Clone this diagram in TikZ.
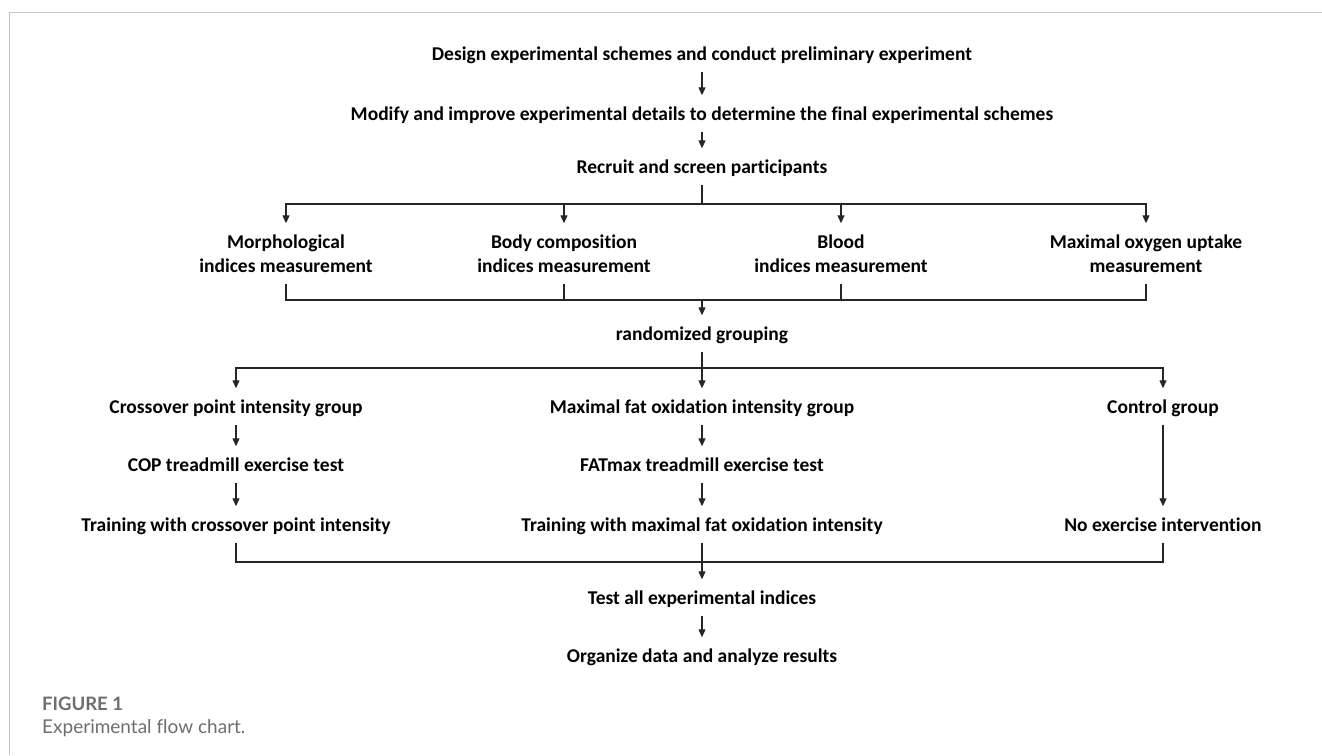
\documentclass[tikz,border=0pt]{standalone}
\usepackage{fontspec}
\setmainfont{Carlito}[Ligatures=NoCommon]
\newfontfamily\capfont{Lato}[Ligatures=NoCommon]
\usetikzlibrary{arrows.meta}
\definecolor{framegray}{HTML}{C4C4C4}
\definecolor{capgray}{HTML}{6E6E6E}
\begin{document}
\begin{tikzpicture}[x=1pt,y=-1pt,
  stage/.style={font=\fontsize{19.5}{24}\selectfont\bfseries, align=center,
    text height=14.5pt, text depth=4.5pt, inner xsep=2pt, inner ysep=7pt},
  twoline/.style={stage, text height=38.5pt},
  link/.style={line width=1.2pt, draw=black!85},
  arr/.style={link, shorten >=3pt, -{Triangle[length=8pt,width=7pt]}}]
\useasboundingbox (0,0) rectangle (1322,755);
\fill[white] (0,0) rectangle (1322,755);
% panel frame (top and left edges)
\draw[line width=1.5pt, draw=framegray] (9.5,755) -- (9.5,12.5) -- (1322,12.5);

% preparation stages
\node[stage] (design) at (702,55) {Design experimental schemes and conduct preliminary experiment};
\node[stage] (modify) at (702,115) {Modify and improve experimental details to determine the final experimental schemes};
\node[stage] (recruit) at (702,168) {Recruit and screen participants};

% baseline measurements
\node[twoline] (m1) at (286,255) {Morphological\\indices measurement};
\node[twoline] (m2) at (564,255) {Body composition\\indices measurement};
\node[twoline] (m3) at (841,255) {Blood\\indices measurement};
\node[twoline] (m4) at (1146,255) {Maximal oxygen uptake\\measurement};

\node[stage] (rnd) at (702,335) {randomized grouping};

% groups
\node[stage] (g1) at (236,408) {Crossover point intensity group};
\node[stage] (g2) at (702,408) {Maximal fat oxidation intensity group};
\node[stage] (g3) at (1163,408) {Control group};
\node[stage] (c1) at (236,466) {COP treadmill exercise test};
\node[stage] (c2) at (702,466) {FATmax treadmill exercise test};
\node[stage] (t1) at (236,526) {Training with crossover point intensity};
\node[stage] (t2) at (702,526) {Training with maximal fat oxidation intensity};
\node[stage] (t3) at (1163,526) {No exercise intervention};

% final stages
\node[stage] (test) at (702,599) {Test all experimental indices};
\node[stage] (org) at (702,657) {Organize data and analyze results};

% branch and join points
\coordinate (split1) at (702,204);
\coordinate (join1) at (702,300);
\coordinate (split2) at (702,368);
\coordinate (join2) at (702,562);

% connectors
\draw[arr] (design) -- (modify);
\draw[arr] (modify) -- (recruit);
\draw[link] (recruit) -- (split1);
\foreach \n in {m1,m2,m3,m4} {
  \draw[arr] (split1) -| (\n);
  \draw[link] (\n) |- (join1);
}
\draw[arr] (join1) -- (rnd);
\draw[link] (rnd) -- (split2);
\draw[arr] (split2) -| (g1);
\draw[arr] (split2) -- (g2);
\draw[arr] (split2) -| (g3);
\draw[arr] (g1) -- (c1);
\draw[arr] (c1) -- (t1);
\draw[arr] (g2) -- (c2);
\draw[arr] (c2) -- (t2);
\draw[arr] (g3) -- (t3);
\draw[link] (t1) |- (join2);
\draw[link] (t3) |- (join2);
\draw[arr] (t2) -- (test);
\draw[arr] (test) -- (org);

% caption
\node[anchor=base west, inner sep=0pt, text=capgray, font=\capfont\bfseries\fontsize{18.5}{20}\selectfont] (figlabel) at (42,710) {FIGURE 1};
\node[anchor=base west, inner sep=0pt, text=capgray, font=\capfont\fontsize{19}{20}\selectfont] (figcap) at (42,733) {Experimental flow chart.};
\end{tikzpicture}
\end{document}
